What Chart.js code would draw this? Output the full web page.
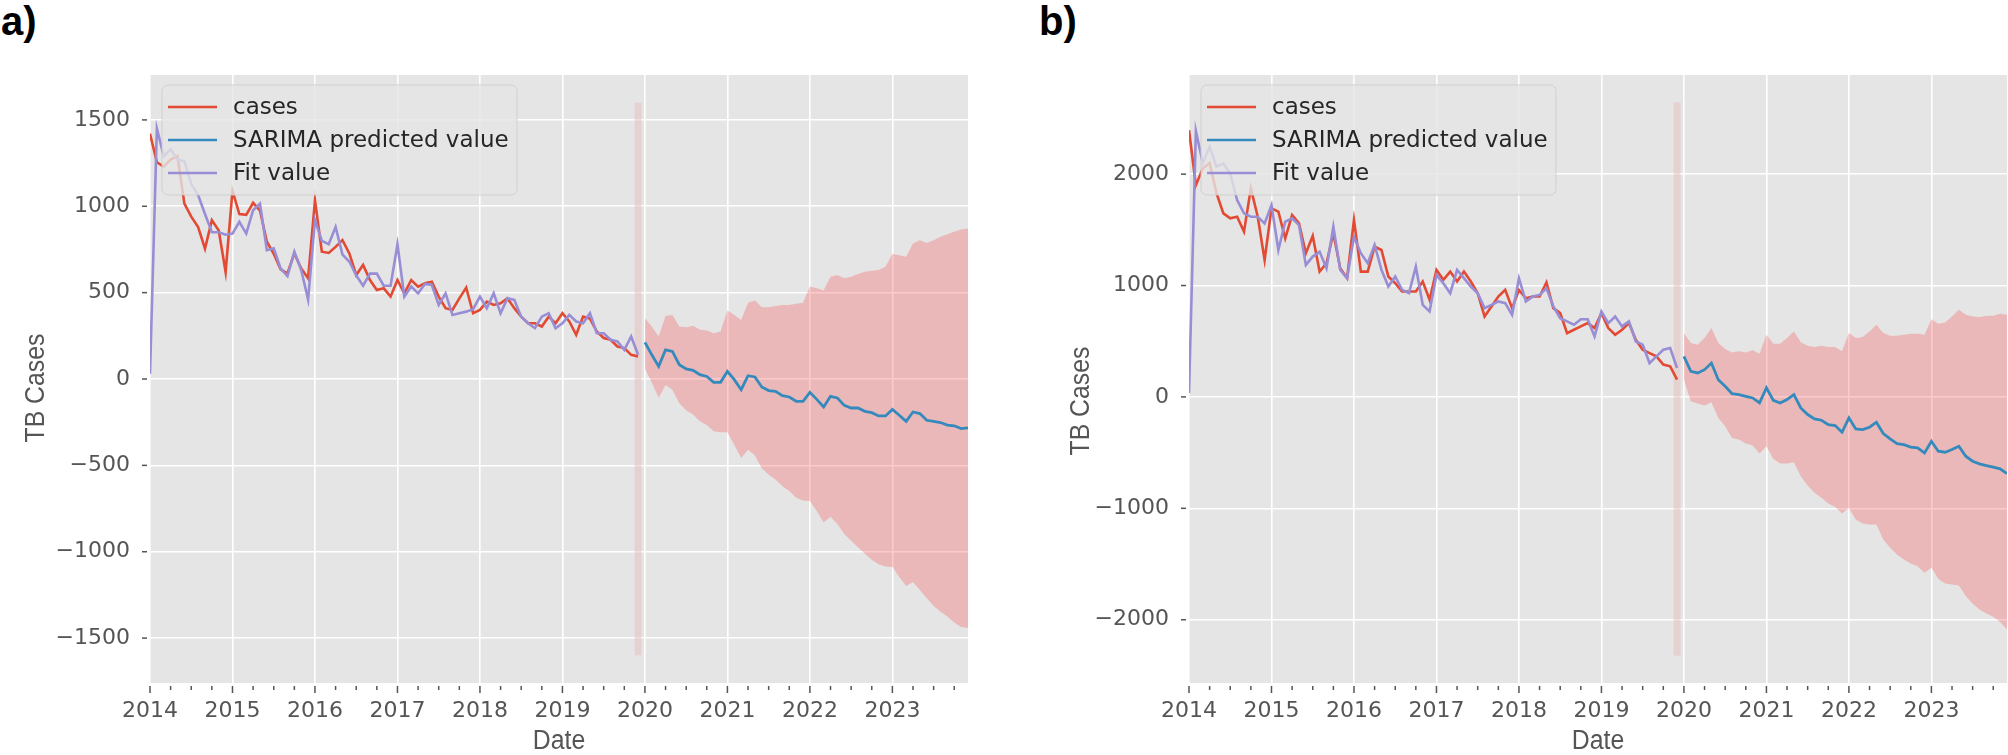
<!DOCTYPE html>
<html>
<head>
<meta charset="utf-8">
<title>TB cases - SARIMA forecast</title>
<script src="https://cdn.jsdelivr.net/npm/chart.js@4.4.1/dist/chart.umd.min.js"></script>
<style>
  body { margin: 0; background: #fff; width: 2008px; height: 755px; position: relative; overflow: hidden; }
  .panel { position: absolute; top: 0; }
  .tag { position: absolute; top: 1px; font: bold 40px "Liberation Sans", Arial, sans-serif; line-height: 40px; color: #000; }
</style>
</head>
<body>
<div class="tag" style="left:1px">a)</div>
<div class="tag" style="left:1039px">b)</div>
<div class="panel" style="left:0;width:1000px;height:755px"><canvas id="chartA" width="1000" height="755"></canvas></div>
<div class="panel" style="left:1040px;width:968px;height:755px"><canvas id="chartB" width="968" height="755"></canvas></div>
<script>
// monthly series, observed 2014-01 .. 2019-12, forecast 2020-01 .. 2023-12
const startYear = 2014;
const forecastStart = 72;
const yearTicks = [2014, 2015, 2016, 2017, 2018, 2019, 2020, 2021, 2022, 2023];
const yTicksA = [-1500, -1000, -500, 0, 500, 1000, 1500];
const yTicksB = [-2000, -1000, 0, 1000, 2000];

// panel a)
const casesA = [
  1420, 1255, 1230, 1270, 1290, 1015, 940, 880, 755, 920, 860, 620,
  1090, 955, 950, 1020, 975, 795, 725, 635, 612, 727, 640, 583,
  1035, 737, 730, 765, 804, 727, 602, 660, 573, 515, 525, 477,
  573, 496, 573, 535, 554, 563, 477, 410, 400, 467, 529, 381,
  400, 448, 429, 438, 467, 410, 361, 323, 323, 304, 361, 323,
  381, 333, 256, 361, 350, 275, 237, 227, 188, 179, 140, 131
];
const fitA = [
  30, 1450, 1290, 1330, 1270, 1260, 1130, 1065, 955, 850, 850, 835,
  842, 910, 842, 977, 1015, 746, 756, 640, 596, 737, 630, 460,
  920, 800, 780, 880, 720, 680, 600, 540, 610, 610, 540, 540,
  780, 477, 535, 496, 550, 544, 429, 496, 371, 381, 390, 404,
  477, 410, 496, 380, 467, 458, 361, 323, 294, 361, 381, 294,
  323, 371, 333, 323, 381, 265, 265, 227, 217, 169, 246, 140
];
const predA = [
  212, 140, 73, 169, 160, 83, 58, 50, 25, 15, -19, -19,
  44, -4, -62, 19, 12, -46, -67, -71, -96, -104, -129, -129,
  -77, -118, -162, -100, -110, -153, -168, -168, -187, -195, -214, -214,
  -176, -210, -245, -191, -200, -239, -245, -252, -267, -271, -287, -283
];
const upperA = [
  352, 304, 246, 365, 371, 304, 300, 308, 285, 281, 265, 275,
  396, 371, 342, 442, 454, 415, 415, 423, 429, 429, 435, 442,
  535, 525, 512, 592, 602, 583, 592, 608, 621, 627, 631, 650,
  723, 717, 708, 785, 804, 788, 804, 823, 838, 852, 865, 871
];
const lowerA = [
  60, -20, -108, -35, -62, -140, -181, -206, -244, -267, -302, -309,
  -309, -380, -458, -410, -443, -516, -554, -582, -621, -649, -688, -703,
  -707, -764, -831, -798, -840, -898, -936, -974, -1012, -1047, -1073, -1085,
  -1089, -1146, -1199, -1175, -1222, -1270, -1314, -1347, -1375, -1410, -1436, -1442
];
const splitA = [-1600, 1600];

// panel b)
const casesB = [
  2394, 1901, 2050, 2100, 1830, 1648, 1603, 1618, 1484, 1872, 1618, 1230,
  1693, 1663, 1424, 1633, 1558, 1290, 1445, 1125, 1200, 1469, 1155, 1066,
  1588, 1125, 1125, 1349, 1319, 1081, 1021, 946, 946, 946, 1036, 872,
  1140, 1051, 1125, 1036, 1125, 1036, 931, 722, 812, 901, 961, 797,
  960, 886, 901, 901, 1027, 797, 752, 573, 603, 633, 663, 618,
  752, 618, 558, 603, 663, 513, 424, 394, 364, 290, 275, 155
];
const fitB = [
  36, 2388, 2100, 2245, 2066, 2095, 2006, 1767, 1648, 1618, 1618, 1558,
  1722, 1319, 1573, 1603, 1543, 1185, 1260, 1304, 1155, 1528, 1140, 1066,
  1439, 1290, 1200, 1364, 1140, 991, 1081, 961, 931, 1170, 827, 767,
  1096, 1021, 931, 1140, 1066, 991, 931, 797, 827, 857, 842, 737,
  1066, 857, 901, 916, 976, 812, 707, 678, 648, 698, 698, 543,
  767, 663, 722, 633, 678, 498, 469, 304, 364, 424, 439, 260
];
const predB = [
  364, 230, 215, 245, 304, 155, 96, 30, 21, 6, -9, -54,
  81, -30, -54, -24, 21, -99, -158, -197, -209, -248, -257, -317,
  -188, -287, -293, -272, -227, -329, -377, -419, -428, -451, -457, -502,
  -398, -487, -496, -472, -442, -532, -577, -601, -616, -631, -646, -688
];
const upperB = [
  573, 484, 469, 528, 618, 484, 430, 400, 409, 400, 418, 388,
  558, 478, 478, 528, 588, 490, 460, 448, 460, 448, 448, 409,
  573, 528, 537, 588, 648, 573, 549, 549, 558, 567, 567, 558,
  698, 657, 669, 722, 782, 737, 722, 716, 728, 728, 746, 737
];
const lowerB = [
  155, -39, -60, -78, -48, -188, -263, -368, -383, -419, -437, -508,
  -443, -556, -598, -598, -586, -712, -795, -861, -906, -957, -987, -1047,
  -996, -1100, -1136, -1145, -1145, -1280, -1354, -1414, -1459, -1495, -1519, -1579,
  -1534, -1633, -1674, -1683, -1692, -1788, -1854, -1908, -1944, -1973, -2021, -2087
];
const splitB = [-2323, 2646];

const COLORS = {
  cases: '#E24A33',
  pred: '#348ABD',
  fit: '#988ED5',
  band: 'rgba(245, 80, 80, 0.3)',
  split: 'rgba(232, 190, 190, 0.5)',
  bg: '#E5E5E5',
  text: '#555555'
};

function toPoints(values, offset) {
  return values.map((v, i) => ({ x: startYear + (offset + i) / 12, y: v }));
}

function fmtTick(v) {
  return v < 0 ? '\u2212' + Math.abs(v) : String(v);
}

// ggplot-like frame: grey panel, outward tick marks, axis titles, inset legend
const framePlugin = {
  id: 'frame',
  beforeDraw(chart) {
    const { ctx, chartArea: a } = chart;
    ctx.save();
    ctx.fillStyle = COLORS.bg;
    ctx.fillRect(a.left, a.top, a.right - a.left, a.bottom - a.top);
    ctx.restore();
  },
  afterDraw(chart, args, opts) {
    const { ctx, chartArea: a, scales } = chart;
    const x = scales.x, y = scales.y;
    ctx.save();

    // tick marks
    ctx.strokeStyle = COLORS.text;
    ctx.lineWidth = 1.5;
    for (let i = 0; i < opts.months; i += 3) {
      const px = x.getPixelForValue(startYear + i / 12);
      const len = i % 12 === 0 ? 7 : 4;
      ctx.beginPath();
      ctx.moveTo(px, a.bottom + 3);
      ctx.lineTo(px, a.bottom + 3 + len);
      ctx.stroke();
    }
    y.ticks.forEach(t => {
      const py = y.getPixelForValue(t.value);
      ctx.beginPath();
      ctx.moveTo(a.left - 8, py);
      ctx.lineTo(a.left - 3, py);
      ctx.stroke();
    });

    // axis titles
    ctx.fillStyle = COLORS.text;
    ctx.font = '27px "Liberation Sans", Arial, sans-serif';
    ctx.textAlign = 'center';
    ctx.textBaseline = 'middle';
    ctx.save();
    ctx.translate((a.left + a.right) / 2, 742);
    ctx.scale(0.92, 1);
    ctx.fillText('Date', 0, 0);
    ctx.restore();
    ctx.save();
    ctx.translate(opts.yTitleX, opts.yTitleY);
    ctx.rotate(-Math.PI / 2);
    ctx.scale(0.92, 1);
    ctx.fillText('TB Cases', 0, 0);
    ctx.restore();

    // legend
    const lx = a.left + 12, ly = a.top + 10, lw = 355, lh = 110;
    ctx.beginPath();
    ctx.roundRect(lx, ly, lw, lh, 6);
    ctx.fillStyle = 'rgba(229, 229, 229, 0.8)';
    ctx.fill();
    ctx.strokeStyle = 'rgba(204, 204, 204, 0.8)';
    ctx.lineWidth = 1;
    ctx.stroke();
    const items = [
      ['cases', COLORS.cases],
      ['SARIMA predicted value', COLORS.pred],
      ['Fit value', COLORS.fit]
    ];
    ctx.font = '23px "DejaVu Sans", sans-serif';
    ctx.textAlign = 'left';
    items.forEach(([label, color], i) => {
      const ry = ly + 22 + i * 33;
      ctx.strokeStyle = color;
      ctx.lineWidth = 2.6;
      ctx.beginPath();
      ctx.moveTo(a.left + 18, ry);
      ctx.lineTo(a.left + 67, ry);
      ctx.stroke();
      ctx.fillStyle = '#262626';
      ctx.fillText(label, a.left + 83, ry + 1);
    });
    ctx.restore();
  }
};

function makeChart(id, p) {
  const splitX = startYear + (forecastStart - 1) / 12;
  const months = p.cases.length + p.pred.length;
  const tickFont = { family: '"DejaVu Sans", sans-serif', size: 22 };
  return new Chart(document.getElementById(id), {
    type: 'line',
    data: {
      datasets: [
        { label: 'Fit value', data: toPoints(p.fit, 0), borderColor: COLORS.fit, borderWidth: 2.6, order: 1 },
        { label: 'SARIMA predicted value', data: toPoints(p.pred, forecastStart), borderColor: COLORS.pred, borderWidth: 2.8, order: 2 },
        { label: 'cases', data: toPoints(p.cases, 0), borderColor: COLORS.cases, borderWidth: 2.6, order: 3 },
        { label: 'split', data: [{ x: splitX, y: p.split[0] }, { x: splitX, y: p.split[1] }],
          borderColor: COLORS.split, borderWidth: 7, order: 4 },
        { label: 'upper', data: toPoints(p.upper, forecastStart), borderColor: 'rgba(0,0,0,0)', borderWidth: 0.1, fill: false, order: 5 },
        { label: 'lower', data: toPoints(p.lower, forecastStart), borderColor: 'rgba(0,0,0,0)', borderWidth: 0.1,
          backgroundColor: COLORS.band, fill: '-1', order: 5 }
      ]
    },
    options: {
      responsive: false,
      animation: false,
      layout: { padding: { top: 75, right: p.padRight, left: 0, bottom: 0 } },
      elements: { point: { radius: 0 }, line: { tension: 0 } },
      plugins: {
        legend: { display: false },
        tooltip: { enabled: false },
        frame: { months: months, yTitleX: p.yTitleX, yTitleY: p.yTitleY }
      },
      scales: {
        x: {
          type: 'linear',
          min: startYear,
          max: startYear + (months - 1) / 12,
          afterBuildTicks: s => { s.ticks = yearTicks.map(v => ({ value: v })); },
          afterFit: s => { s.height = 72; },
          border: { display: false },
          grid: { color: '#ffffff', lineWidth: 1.6, drawTicks: false },
          ticks: { font: tickFont, color: COLORS.text, padding: 15, maxRotation: 0, autoSkip: false,
                   callback: v => String(v) }
        },
        y: {
          min: p.yMin,
          max: p.yMax,
          afterBuildTicks: s => { s.ticks = p.yTicks.map(v => ({ value: v })); },
          afterFit: s => { s.width = p.yAxisW; },
          border: { display: false },
          grid: { color: '#ffffff', lineWidth: 1.6, drawTicks: false },
          ticks: { font: tickFont, color: COLORS.text, padding: 20, callback: v => fmtTick(v) }
        }
      }
    },
    plugins: [framePlugin]
  });
}

makeChart('chartA', {
  cases: casesA, fit: fitA, pred: predA, upper: upperA, lower: lowerA, split: splitA,
  yTicks: yTicksA, yMin: -1760, yMax: 1760, yAxisW: 150, padRight: 32, yTitleX: 37, yTitleY: 388
});
makeChart('chartB', {
  cases: casesB, fit: fitB, pred: predB, upper: upperB, lower: lowerB, split: splitB,
  yTicks: yTicksB, yMin: -2568, yMax: 2890, yAxisW: 149, padRight: 1, yTitleX: 42, yTitleY: 401
});
</script>
</body>
</html>
